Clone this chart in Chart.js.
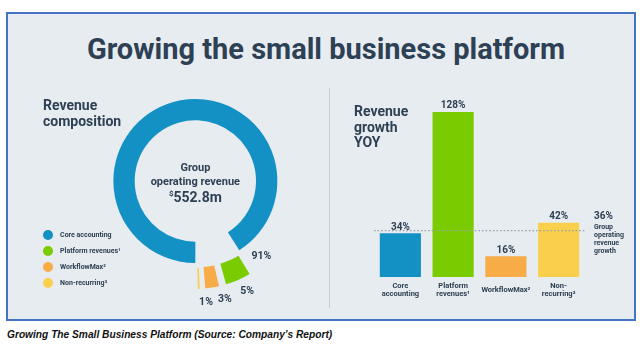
<!DOCTYPE html>
<html>
<head>
<meta charset="utf-8">
<script src="https://cdn.jsdelivr.net/npm/chart.js@4.4.0/dist/chart.umd.min.js"></script>
<style>
html,body{margin:0;padding:0;background:#ffffff;width:641px;height:355px;overflow:hidden;font-family:Roboto,"Noto Sans",sans-serif;}
#frame{position:absolute;left:6px;top:12px;width:630px;height:309px;box-sizing:border-box;border:2px solid #4472C4;background:#E7ECF1;}
.t{position:absolute;color:#2E4054;font-weight:700;white-space:nowrap;z-index:5;}
#title{left:0;width:652px;text-align:center;top:35px;font-size:29px;line-height:29px;}
#h1{left:43px;top:97px;font-size:14px;line-height:16px;}
#h2{left:354px;top:104px;font-size:14px;line-height:15.5px;}
#divider{position:absolute;left:329px;top:88px;width:1px;height:220px;background:#C5CCD3;}
#caption{position:absolute;left:7px;top:328px;font-family:"Liberation Sans Narrow","Liberation Sans",sans-serif;font-style:italic;font-weight:700;font-size:11.5px;line-height:12px;color:#111;white-space:nowrap;transform-origin:0 0;}
#c1{position:absolute;left:0;top:66px;z-index:2;}
#c2{position:absolute;left:340px;top:90px;z-index:2;}
</style>
</head>
<body>
<div id="frame"></div>
<div class="t" id="title">Growing the small business platform</div>
<div class="t" id="h1">Revenue<br>composition</div>
<div class="t" id="h2">Revenue<br>growth<br>YOY</div>
<div id="divider"></div>
<canvas id="c1" width="329" height="254"></canvas>
<canvas id="c2" width="296" height="225"></canvas>
<div id="caption">Growing The Small Business Platform (Source: Company’s Report)</div>
<script>
// ---- data ----
const segments = ['Core accounting', 'Platform revenues¹', 'WorkflowMax²', 'Non-recurring³'];
const shares = [91, 5, 3, 1];
const growthCategories = [['Core', 'accounting'], ['Platform', 'revenues¹'], ['WorkflowMax²'], ['Non-', 'recurring³']];
const growth = [34, 128, 16, 42];
const groupGrowth = 36;
const groupGrowthText = ['Group', 'operating', 'revenue', 'growth'];
const centerText = ['Group', 'operating revenue'];
const groupRevenue = '552.8m';

// ---- styles ----
const palette = ['#1391C5', '#7ACC00', '#F7AC48', '#F9CF4C'];
const ink = '#2E4054';
Chart.defaults.font.family = 'Roboto';

// caption width fit
const cap = document.getElementById('caption');
cap.style.transform = 'scaleX(' + (325 / cap.offsetWidth) + ')';

const donutText = {
  id: 'donutText',
  afterDatasetsDraw(chart) {
    const ctx = chart.ctx;
    const arcs = chart.getDatasetMeta(0).data;
    const cx = arcs[0].x, cy = arcs[0].y;
    ctx.save();
    ctx.fillStyle = ink;
    ctx.textAlign = 'center';
    ctx.textBaseline = 'middle';
    ctx.font = 'bold 11px Roboto';
    ctx.fillText(centerText[0], cx, cy - 13);
    ctx.fillText(centerText[1], cx, cy + 1);
    ctx.font = 'bold 14px Roboto';
    const w1 = ctx.measureText(groupRevenue).width;
    ctx.font = 'bold 8px Roboto';
    const w0 = ctx.measureText('$').width;
    const x0 = cx - (w0 + w1) / 2;
    ctx.textAlign = 'left';
    ctx.fillText('$', x0, cy + 13);
    ctx.font = 'bold 14px Roboto';
    ctx.fillText(groupRevenue, x0 + w0, cy + 17);
    // slice labels
    const nudge = [0, -0.03, -0.087, -0.056];
    ctx.textAlign = 'center';
    ctx.font = 'bold 10.5px Roboto';
    arcs.forEach((a, i) => {
      let ang, r;
      if (i === 0) { ang = a.endAngle - 0.15; r = a.outerRadius + 18.5; }
      else { ang = (a.startAngle + a.endAngle) / 2 + nudge[i]; r = a.outerRadius + 40; }
      ctx.fillText(shares[i] + '%', cx + Math.cos(ang) * r, cy + Math.sin(ang) * r);
    });
    ctx.restore();
  }
};

new Chart(document.getElementById('c1'), {
  type: 'doughnut',
  data: {
    labels: segments,
    datasets: [{
      data: shares,
      backgroundColor: palette,
      borderWidth: 0,
      offset: [0, 61, 57, 54],
      hoverOffset: 0
    }]
  },
  options: {
    responsive: false,
    animation: false,
    events: [],
    rotation: 180,
    radius: 82,
    cutout: '74%',
    layout: { padding: { left: 34, right: 69, top: 0.5, bottom: 24.5 } },
    plugins: {
      tooltip: { enabled: false },
      legend: {
        position: 'left',
        align: 'end',
        labels: {
          usePointStyle: true,
          pointStyle: 'circle',
          pointStyleWidth: 10,
          boxHeight: 7,
          padding: 9,
          color: ink,
          font: { family: 'Roboto', size: 7, weight: 'bold' },
          generateLabels(chart) {
            const base = Chart.controllers.doughnut.overrides.plugins.legend.labels.generateLabels(chart);
            return base.map(l => Object.assign(l, { text: '\u2002' + l.text, lineWidth: 0 }));
          }
        }
      }
    }
  },
  plugins: [donutText]
});

const barDecor = {
  id: 'barDecor',
  afterDatasetsDraw(chart) {
    const ctx = chart.ctx;
    const area = chart.chartArea;
    const y = chart.scales.y.getPixelForValue(groupGrowth);
    ctx.save();
    ctx.strokeStyle = '#9AA3AC';
    ctx.lineWidth = 1.2;
    ctx.setLineDash([1.6, 2]);
    ctx.beginPath();
    ctx.moveTo(area.left, y);
    ctx.lineTo(area.right, y);
    ctx.stroke();
    ctx.setLineDash([]);
    ctx.fillStyle = ink;
    ctx.textAlign = 'center';
    ctx.textBaseline = 'middle';
    ctx.font = 'bold 10px Roboto';
    chart.getDatasetMeta(0).data.forEach((b, i) => {
      ctx.fillText(growth[i] + '%', b.x, b.y - 6);
    });
    ctx.textAlign = 'left';
    const ax = area.right + 9;
    ctx.fillText(groupGrowth + '%', ax, y - 14);
    ctx.font = 'bold 7px Roboto';
    groupGrowthText.forEach((t, i) => ctx.fillText(t, ax, y - 3.5 + i * 8));
    ctx.restore();
  }
};

new Chart(document.getElementById('c2'), {
  type: 'bar',
  data: {
    labels: growthCategories,
    datasets: [{
      data: growth,
      backgroundColor: palette,
      borderWidth: 0,
      categoryPercentage: 1,
      barPercentage: 0.78
    }]
  },
  options: {
    responsive: false,
    animation: false,
    events: [],
    layout: { padding: { left: 34, right: 51, top: 0, bottom: 0 } },
    scales: {
      x: {
        grid: { display: false, drawTicks: false },
        border: { display: false },
        ticks: {
          color: ink,
          font: { family: 'Roboto', size: 7.5, weight: 'bold', lineHeight: 1.07 },
          padding: 9,
          maxRotation: 0,
          minRotation: 0,
          autoSkip: false,
          crossAlign: 'center'
        },
        afterFit(s) { s.height = 38; }
      },
      y: { display: false, min: 0, max: 145 }
    },
    plugins: { legend: { display: false }, tooltip: { enabled: false } }
  },
  plugins: [barDecor]
});
</script>
</body>
</html>
